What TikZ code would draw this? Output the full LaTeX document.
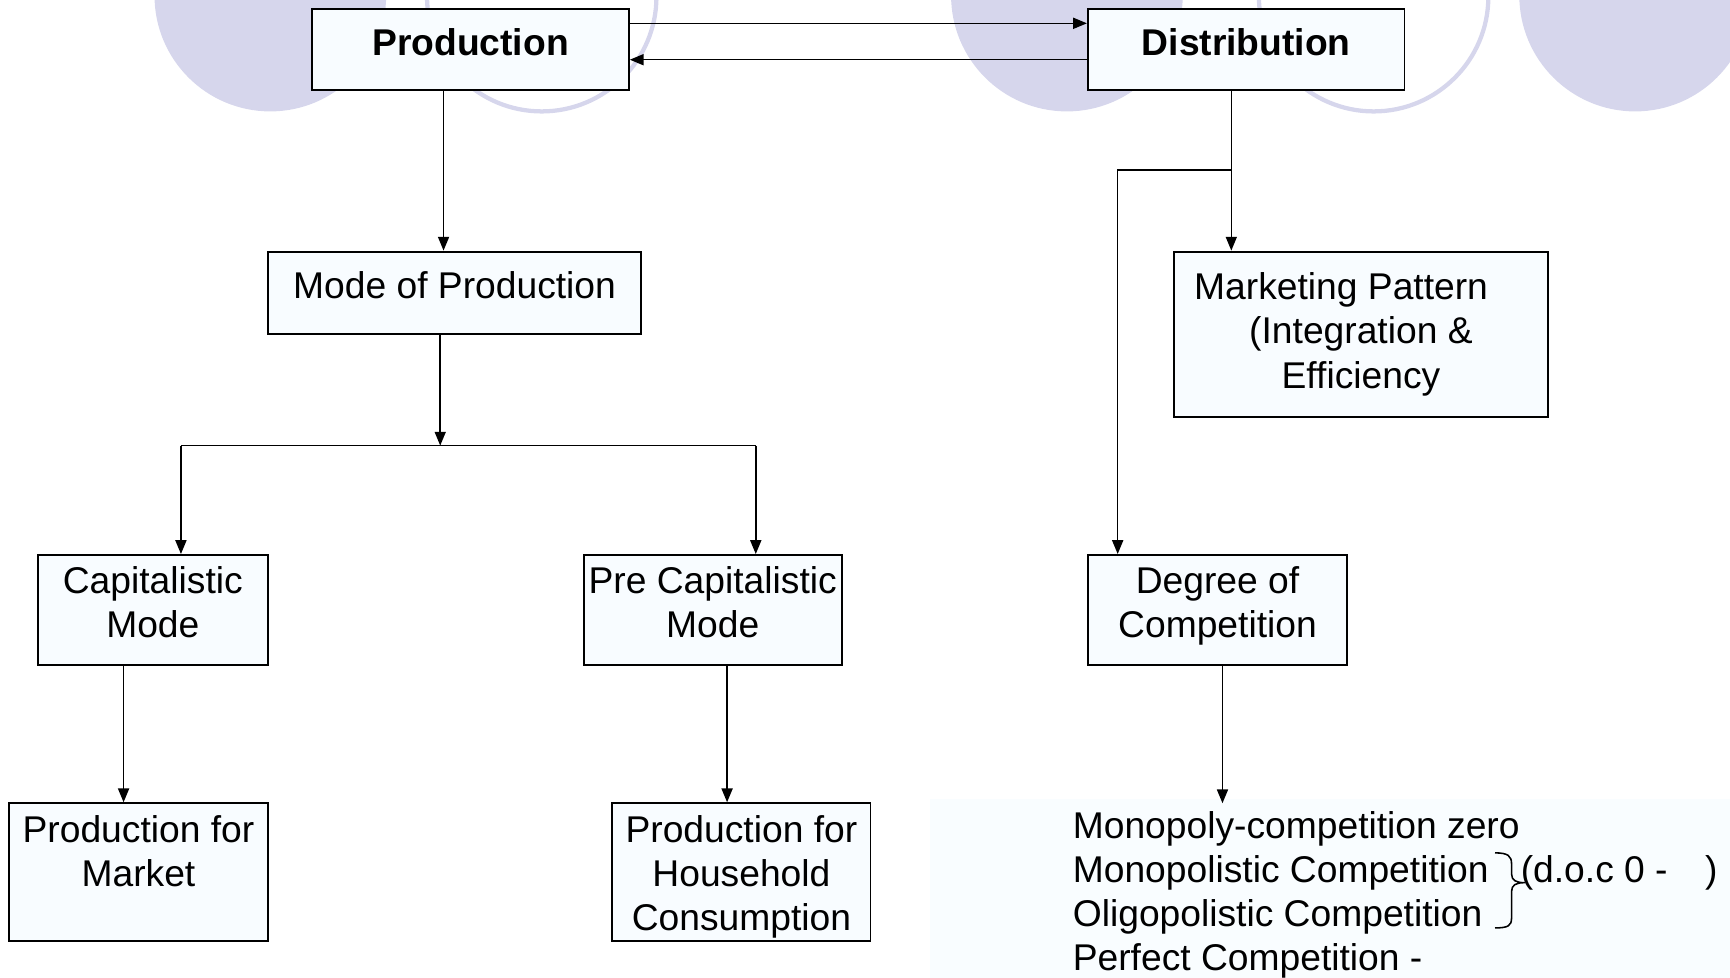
\documentclass[tikz,border=0pt]{standalone}
\usepackage{fontspec}
\setmainfont{Liberation Sans}
\usetikzlibrary{arrows.meta,positioning,calc}
\definecolor{lavender}{RGB}{214,214,236}
\definecolor{boxfill}{RGB}{248,252,255}
\definecolor{panelfill}{RGB}{249,253,255}
\newcommand{\lowstrut}[1]{\rule[-#1]{0pt}{#1}}
\tikzset{
  flowbox/.style={
    draw=black, fill=boxfill, line width=1pt,
    inner sep=1pt, align=center,
    font=\fontsize{19.2pt}{22.8pt}\selectfont
  },
  headbox/.style={
    flowbox, font=\fontsize{19.2pt}{22.8pt}\selectfont\bfseries,
    minimum width=5.74cm, minimum height=1.48cm
  },
  flowarrow/.style={
    -{Triangle[length=0.25cm,width=0.2cm]},
    draw=black, line width=0.8pt
  },
  flowline/.style={draw=black, line width=0.8pt},
  listtext/.style={
    font=\fontsize{19.2pt}{22.8pt}\selectfont, inner sep=0pt
  },
  bgdisc/.style={fill=lavender},
  bgring/.style={draw=lavender, line width=2.2pt},
}

\begin{document}
\begin{tikzpicture}[x=0.02cm,y=-0.02cm]
  \useasboundingbox (0,0) rectangle (1568,886);

  %% Background discs and rings
  \fill[bgdisc] (245,-4) circle[radius=2.1cm];
  \fill[bgdisc] (967,-4) circle[radius=2.1cm];
  \fill[bgdisc] (1482,-4) circle[radius=2.1cm];
  \draw[bgring] (491,-3) circle[radius=2.08cm];
  \draw[bgring] (1245,-3) circle[radius=2.08cm];

  %% Pale panel behind the list
  \fill[panelfill] (843,724) rectangle (1568,886);

  %% Top level
  \node[headbox] (prod) at (426.5,45) {Production\lowstrut{0.29cm}};
  \node[headbox] (dist) at (1129.5,45) {Distribution\lowstrut{0.29cm}};

  %% Production side
  \node[flowbox, minimum width=6.76cm, minimum height=1.5cm] (mode)
    at (412,265.5) {Mode of Production\lowstrut{0.29cm}};
  \node[flowbox, minimum width=4.18cm, minimum height=2cm] (cap)
    at (138.5,553) {Capitalistic\\Mode\lowstrut{0.29cm}};
  \node[flowbox, minimum width=4.68cm, minimum height=2cm] (precap)
    at (646,553) {Pre Capitalistic\\Mode\lowstrut{0.29cm}};
  \node[flowbox, minimum width=4.7cm, minimum height=2.5cm] (market)
    at (125.5,790.5) {Production for\\Market\lowstrut{0.77cm}};
  \node[flowbox, minimum width=4.68cm, minimum height=2.5cm] (house)
    at (672,790.5) {\rule{0pt}{0.65cm}Production for\\Household\\Consumption};

  %% Distribution side
  \node[flowbox, minimum width=6.78cm, minimum height=3cm] (mark)
    at (1233.5,303) {Marketing Pattern\kern0.72cm\\(Integration \&\\Efficiency};
  \node[flowbox, minimum width=4.7cm, minimum height=2cm] (doc)
    at (1103.5,553) {Degree of\\Competition\lowstrut{0.29cm}};
  \node[listtext, anchor=north west, inner ysep=0.14cm, align=left] (list)
    at (972,728) {Monopoly-competition zero\\Monopolistic Competition\\%
    Oligopolistic Competition\\Perfect Competition -};
  \node[listtext, anchor=base west] (docnote)
    at (1378,800) {(d.o.c 0 -\hspace{0.68cm})};

  %% Brace over the middle two lines
  \draw[line width=0.8pt, shift={(list.north west)}]
    (383,45) .. controls (395,45) and (398,48) .. (398,55) -- (398,64)
    .. controls (398,70) and (402,72) .. (410,72)
    .. controls (402,72) and (398,74) .. (398,80) -- (398,104)
    .. controls (398,111) and (395,113) .. (383,113);

  %% Production <-> Distribution
  \draw[flowarrow] ([yshift=-0.28cm]prod.north east)
    -- ([yshift=-0.28cm]dist.north west);
  \draw[flowarrow] ([yshift=-0.94cm]dist.north west)
    -- ([yshift=-0.94cm]prod.north east);

  %% Production branch
  \draw[flowarrow] ([xshift=-0.49cm]prod.south)
    -- ([xshift=-0.49cm]prod.south |- mode.north);
  \coordinate (split) at ([xshift=-0.26cm,yshift=-2cm]mode.south);
  \draw[flowarrow] ([xshift=-0.26cm]mode.south) -- (split);
  \draw[flowline] ([xshift=0.51cm]cap.north |- split)
    -- ([xshift=0.78cm]precap.north |- split);
  \draw[flowarrow] ([xshift=0.51cm]cap.north |- split)
    -- ([xshift=0.51cm]cap.north);
  \draw[flowarrow] ([xshift=0.78cm]precap.north |- split)
    -- ([xshift=0.78cm]precap.north);
  \draw[flowarrow] ([xshift=-0.53cm]cap.south)
    -- ([xshift=-0.53cm]cap.south |- market.north);
  \draw[flowarrow] ([xshift=0.26cm]precap.south)
    -- ([xshift=0.26cm]precap.south |- house.north);

  %% Distribution branch
  \draw[flowarrow] ([xshift=-0.27cm]dist.south)
    -- ([xshift=-0.27cm]dist.south |- mark.north);
  \coordinate (fork) at ([xshift=-0.27cm,yshift=-1.42cm]dist.south);
  \draw[flowarrow] (fork) -| ([xshift=-1.81cm]doc.north);
  \draw[flowarrow] ([xshift=0.09cm]doc.south)
    -- ([xshift=0.09cm]doc.south |- list.north);

\end{tikzpicture}
\end{document}
